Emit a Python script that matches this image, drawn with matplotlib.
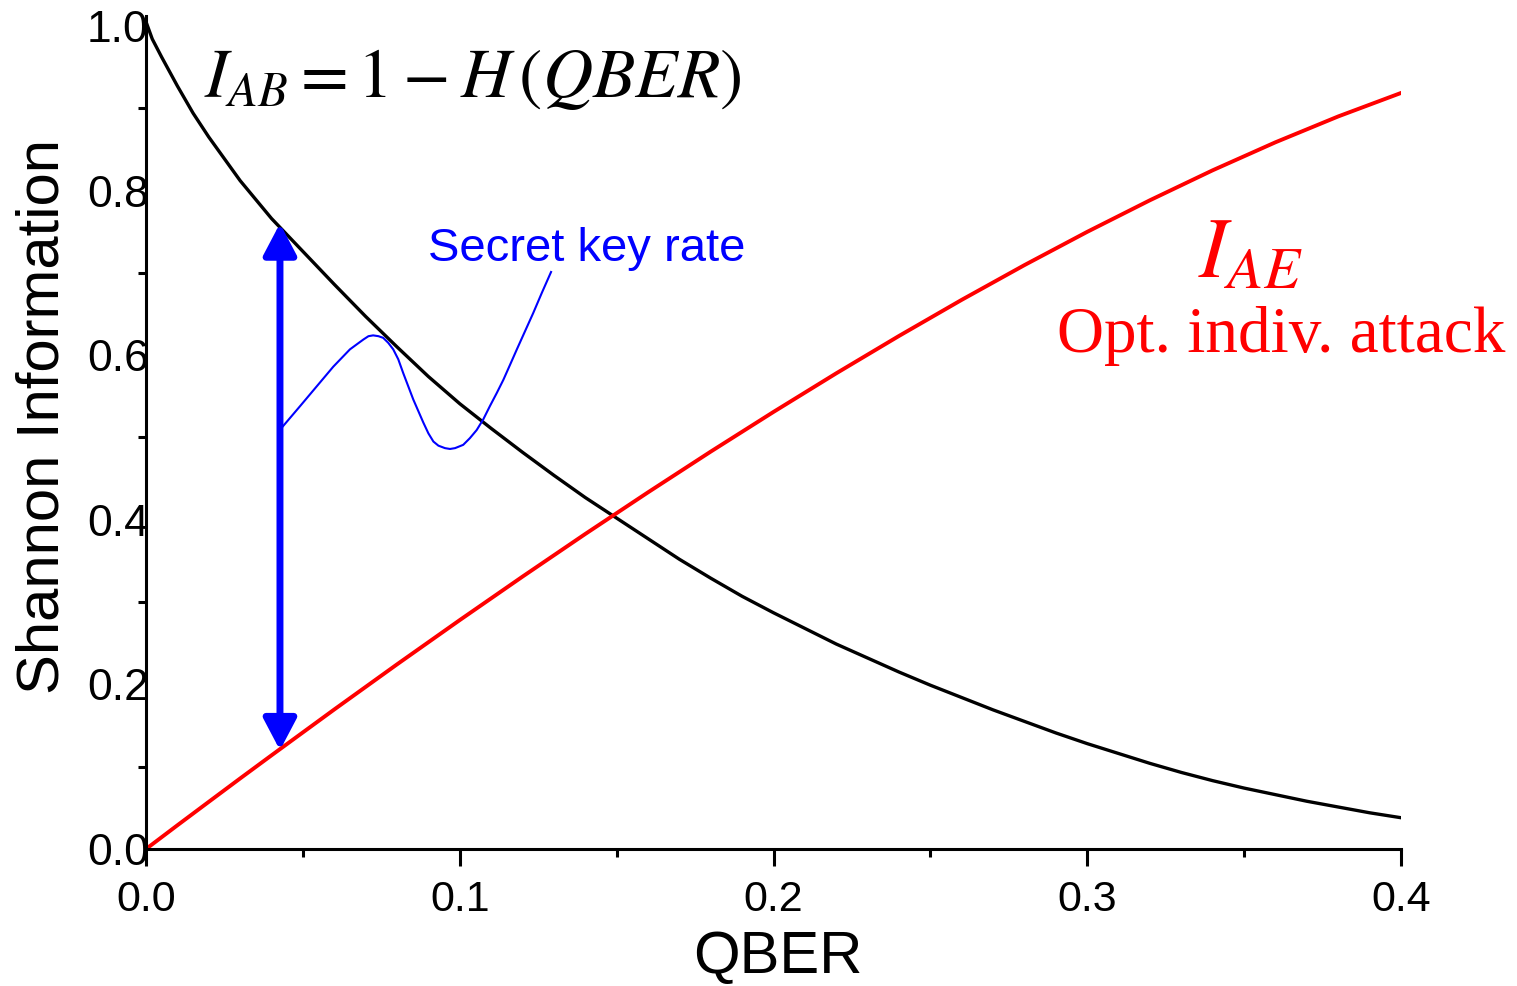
from matplotlib import pyplot as plt
from matplotlib.ticker import MultipleLocator

plt.rcParams['font.family'] = ['Liberation Sans', 'DejaVu Sans']
plt.rcParams['mathtext.fontset'] = 'stix'

# ---- data ----
qber_ab = [0.0, 0.002, 0.005, 0.01, 0.015, 0.02, 0.03, 0.04, 0.05, 0.06, 0.07, 0.08, 0.09,
           0.10, 0.11, 0.12, 0.13, 0.14, 0.15, 0.16, 0.17, 0.18, 0.19, 0.20, 0.21, 0.22,
           0.23, 0.24, 0.25, 0.26, 0.27, 0.28, 0.29, 0.30, 0.31, 0.32, 0.33, 0.34, 0.35,
           0.36, 0.37, 0.38, 0.39, 0.40]
i_ab = [1.005, 0.984, 0.962, 0.927, 0.894, 0.865, 0.812, 0.766, 0.726, 0.686, 0.647, 0.610,
        0.574, 0.541, 0.511, 0.482, 0.454, 0.427, 0.402, 0.377, 0.352, 0.329, 0.307, 0.287,
        0.268, 0.249, 0.232, 0.215, 0.199, 0.184, 0.169, 0.155, 0.141, 0.128, 0.116, 0.104,
        0.093, 0.083, 0.074, 0.066, 0.058, 0.051, 0.044, 0.038]

qber_ae = [0.0, 0.01, 0.02, 0.03, 0.04, 0.06, 0.08, 0.10, 0.12, 0.14, 0.16, 0.18, 0.20,
           0.22, 0.24, 0.26, 0.28, 0.30, 0.32, 0.34, 0.36, 0.38, 0.40]
i_ae = [0.0, 0.0288, 0.0573, 0.0857, 0.1138, 0.1695, 0.2243, 0.2781, 0.3309, 0.3827, 0.4333,
        0.4828, 0.5310, 0.5779, 0.6233, 0.6672, 0.7094, 0.7498, 0.7882, 0.8246, 0.8586,
        0.8900, 0.9185]

# hand-drawn pointer line for the "Secret key rate" label
key_x = [0.0433, 0.0491, 0.0544, 0.0597, 0.0650, 0.0675, 0.0693, 0.0709, 0.0724, 0.0741,
         0.0756, 0.0772, 0.0788, 0.0804, 0.0820, 0.0836, 0.0852, 0.0868, 0.0884, 0.0900,
         0.0916, 0.0932, 0.0953, 0.0969, 0.0985, 0.1011, 0.1032, 0.1054, 0.1075, 0.1096,
         0.1118, 0.1139, 0.1160, 0.1182, 0.1208, 0.1234, 0.1262, 0.1291]
key_y = [0.512, 0.538, 0.562, 0.586, 0.607, 0.614, 0.619, 0.623, 0.624, 0.623, 0.621, 0.615,
         0.607, 0.595, 0.578, 0.562, 0.546, 0.532, 0.518, 0.505, 0.495, 0.490, 0.487, 0.486,
         0.487, 0.491, 0.499, 0.509, 0.522, 0.538, 0.554, 0.570, 0.588, 0.607, 0.629, 0.651,
         0.676, 0.701]

arrow_x = 0.0427
arrow_bottom = 0.120
arrow_top = 0.760

#--------------------------------------------------------------------------------
fig = plt.figure(figsize=(15.17, 9.86), dpi=100)
ax = fig.add_axes([146/1517, 1-849/986, (1401-146)/1517, (849-16)/986])

ax.plot(qber_ab, i_ab, '-', color='black', lw=2.4)
ax.plot(qber_ae, i_ae, '-', color='#ff0000', lw=2.8)
ax.plot(key_x, key_y, '-', color='#0000ff', lw=1.5)

ax.annotate('', xy=(arrow_x, arrow_top), xytext=(arrow_x, arrow_bottom),
            arrowprops=dict(arrowstyle='<|-|>,head_length=0.95,head_width=0.5',
                            color='#0000ff', lw=5, shrinkA=0, shrinkB=0,
                            mutation_scale=20))

ax.text(0.0899, 0.729, 'Secret key rate', color='#0000ff', fontsize=34,
        ha='left', va='center')
ax.text(0.0185, 0.914, r'$I_{AB}=1-H\,(QBER)$', color='black', fontsize=50,
        ha='left', va='baseline')
ax.text(0.3353, 0.694, r'$I_{AE}$', color='#ff0000', fontsize=61,
        ha='left', va='baseline')
ax.text(0.2904, 0.604, 'Opt. indiv. attack', color='#ff0000', fontsize=47,
        family='Liberation Serif', ha='left', va='baseline')

ax.set_xlim(0, 0.4)
ax.set_ylim(0, 1.012)
ax.xaxis.set_minor_locator(MultipleLocator(0.05))
ax.yaxis.set_minor_locator(MultipleLocator(0.1))
ax.set_xticks([0.0, 0.1, 0.2, 0.3, 0.4])
ax.set_xticklabels(['0.0', '0.1', '0.2', '0.3', '0.4'])
ax.set_yticks([0.0, 0.2, 0.4, 0.6, 0.8, 1.0])
ax.set_yticklabels(['0.0', '0.2', '0.4', '0.6', '0.8', '1.0'])

for s in ['top', 'right']:
    ax.spines[s].set_visible(False)
for s in ['left', 'bottom']:
    ax.spines[s].set_linewidth(2.2)

ax.tick_params(axis='x', which='major', direction='out', length=12, width=2.2,
               labelsize=31, pad=10)
ax.tick_params(axis='x', which='minor', direction='out', length=6, width=2.2)
ax.tick_params(axis='y', which='major', length=0, labelsize=32, pad=-2)
ax.tick_params(axis='y', which='minor', direction='out', length=6, width=2.2)

fig.text(778/1517, 1-958/986, 'QBER', fontsize=43, ha='center', va='center')
fig.text(43/1517, 1-417/986, 'Shannon Information', fontsize=43, rotation=90,
         ha='center', va='center')

plt.savefig('out.png', dpi=100)
#--------------------------------------------------------------------------------
